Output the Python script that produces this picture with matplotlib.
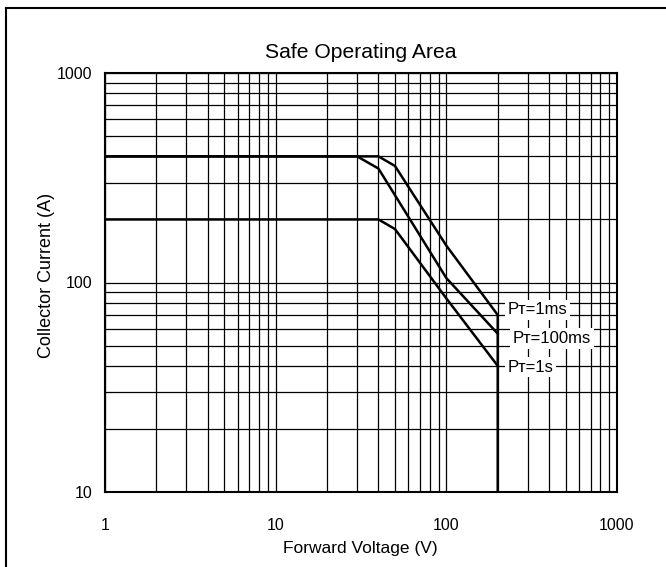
import matplotlib.pyplot as plt
from matplotlib.lines import Line2D

plt.rcParams['font.family'] = ['Liberation Sans', 'DejaVu Sans']

# SOA boundary curves (voltage V, current A)
v_1ms = [1, 40, 50, 100, 200, 200]
i_1ms = [400, 400, 360, 150, 70, 10]
v_100ms = [1, 30, 40, 100, 200]
i_100ms = [400, 400, 350, 105, 57]
v_1s = [1, 40, 50, 100, 200]
i_1s = [200, 200, 180, 84, 40]

labels = ['P\u1d1b=1ms', 'P\u1d1b=100ms', 'P\u1d1b=1s']
label_x = [228, 244, 228]
label_y = [74, 54, 39.5]

fig = plt.figure(figsize=(6.66, 5.67), dpi=100)
ax = fig.add_axes([105 / 666, 1 - 492 / 567, 512 / 666, 419 / 567])

ax.set_xscale('log')
ax.set_yscale('log')
ax.set_xlim(1, 1000)
ax.set_ylim(10, 1000)

ax.grid(True, which='both', color='black', lw=0.9)
ax.set_axisbelow(True)
ax.tick_params(which='both', length=0, labelsize=11.5)
ax.tick_params(axis='x', pad=19)
ax.tick_params(axis='y', pad=9)
ax.set_xticks([1, 10, 100, 1000])
ax.set_xticklabels(['1', '10', '100', '1000'])
ax.set_yticks([10, 100, 1000])
ax.set_yticklabels(['10', '100', '1000'])
for s in ax.spines.values():
    s.set_linewidth(1.5)

for v, i in [(v_1ms, i_1ms), (v_100ms, i_100ms), (v_1s, i_1s)]:
    ax.plot(v, i, color='black', lw=1.8, zorder=3)

for lab, x, y in zip(labels, label_x, label_y):
    ax.text(x, y, lab, fontsize=12, va='center', ha='left', zorder=4,
            bbox=dict(facecolor='white', edgecolor='none', pad=2))

ax.text(0.5, 1.05, 'Safe Operating Area', fontsize=15.2, ha='center', va='center',
        transform=ax.transAxes)
ax.set_xlabel('Forward Voltage (V)', fontsize=12.5)
ax.set_ylabel('Collector Current (A)', fontsize=13)
ax.xaxis.set_label_coords(0.498, -0.134)
ax.yaxis.set_label_coords(-0.115, 0.518)
ax.xaxis.label.set_va('center')
ax.yaxis.label.set_va('center')

# outer frame (top and left edges visible)
fig.add_artist(Line2D([6 / 666, 6 / 666], [0, 1 - 8 / 567], color='black', lw=1.5, transform=fig.transFigure))
fig.add_artist(Line2D([6 / 666, 1], [1 - 8 / 567, 1 - 8 / 567], color='black', lw=1.5, transform=fig.transFigure))

fig.savefig('out.png', dpi=100)
